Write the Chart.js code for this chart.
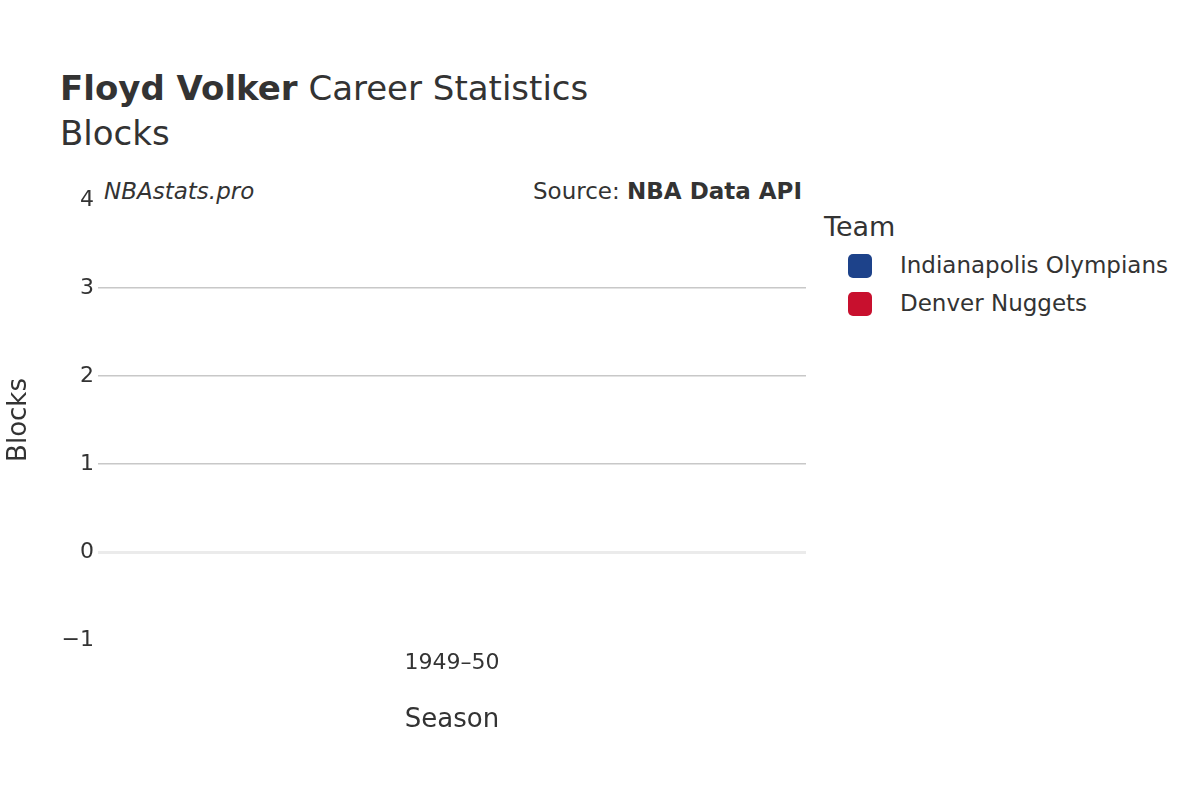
<!DOCTYPE html>
<html><head><meta charset="utf-8">
<script src="https://cdn.jsdelivr.net/npm/chart.js@4"></script>
<style>
body{margin:0;width:1200px;height:800px;background:#fff;font-family:"DejaVu Sans",sans-serif;color:#333;position:relative;overflow:hidden}
.t{position:absolute;white-space:nowrap}
#c{position:absolute;left:0;top:0}
</style></head><body>
<div class="t" style="left:60px;top:68px;font-size:34px"><b>Floyd Volker</b> Career Statistics</div>
<div class="t" style="left:60px;top:113px;font-size:34px">Blocks</div>
<div class="t" style="left:104px;top:178px;font-size:23px;font-style:italic">NBAstats.pro</div>
<div class="t" style="right:398px;top:178px;font-size:23px">Source: <b>NBA Data API</b></div>
<div class="t" style="left:824px;top:211px;font-size:27px">Team</div>
<div id="leg"></div>
<canvas id="c" width="820" height="800" style="width:820px;height:800px"></canvas>
<script>
const seasons=["1949–50"];
const teams=["Indianapolis Olympians","Denver Nuggets"];
const teamColors=["#1d428a","#c8102e"];
const blocks=[[0],[0]];
const leg=document.getElementById('leg');
teams.forEach((t,i)=>{leg.innerHTML+=`<div class="t" style="left:848px;top:${254+i*38}px;width:24px;height:24px;border-radius:5px;background:${teamColors[i]}"></div><div class="t" style="left:900px;top:${252+i*38}px;font-size:23px">${t}</div>`;});
new Chart(document.getElementById('c'),{type:'line',
data:{labels:seasons,datasets:teams.map((t,i)=>({label:t,data:blocks[i],borderColor:teamColors[i],backgroundColor:teamColors[i],pointRadius:0,borderWidth:0}))},
options:{responsive:false,animation:false,layout:{padding:{top:200,bottom:60,left:0,right:14}},
plugins:{legend:{display:false},tooltip:{enabled:false}},
scales:{
y:{min:-1,max:4,afterFit:s=>{s.width=98},border:{display:false},
ticks:{stepSize:1,color:'#333',font:{size:22,family:'DejaVu Sans'},padding:4,callback:v=>v<0?'−'+Math.abs(v):v},
grid:{drawTicks:false,color:c=>c.tick.value===0?'#ebebeb':(c.tick.value===4||c.tick.value===-1?'rgba(0,0,0,0)':'#c8c8c8'),lineWidth:c=>c.tick.value===0?3:1.5},
title:{display:true,text:'Blocks',color:'#333',font:{size:26,family:'DejaVu Sans'}}},
x:{offset:true,afterFit:s=>{s.height=100},border:{display:false},grid:{display:false},
ticks:{color:'#333',font:{size:22,family:'DejaVu Sans'},padding:2},
title:{display:true,text:'Season',color:'#333',font:{size:26,family:'DejaVu Sans'},padding:{top:10}}}}}});
</script></body></html>
